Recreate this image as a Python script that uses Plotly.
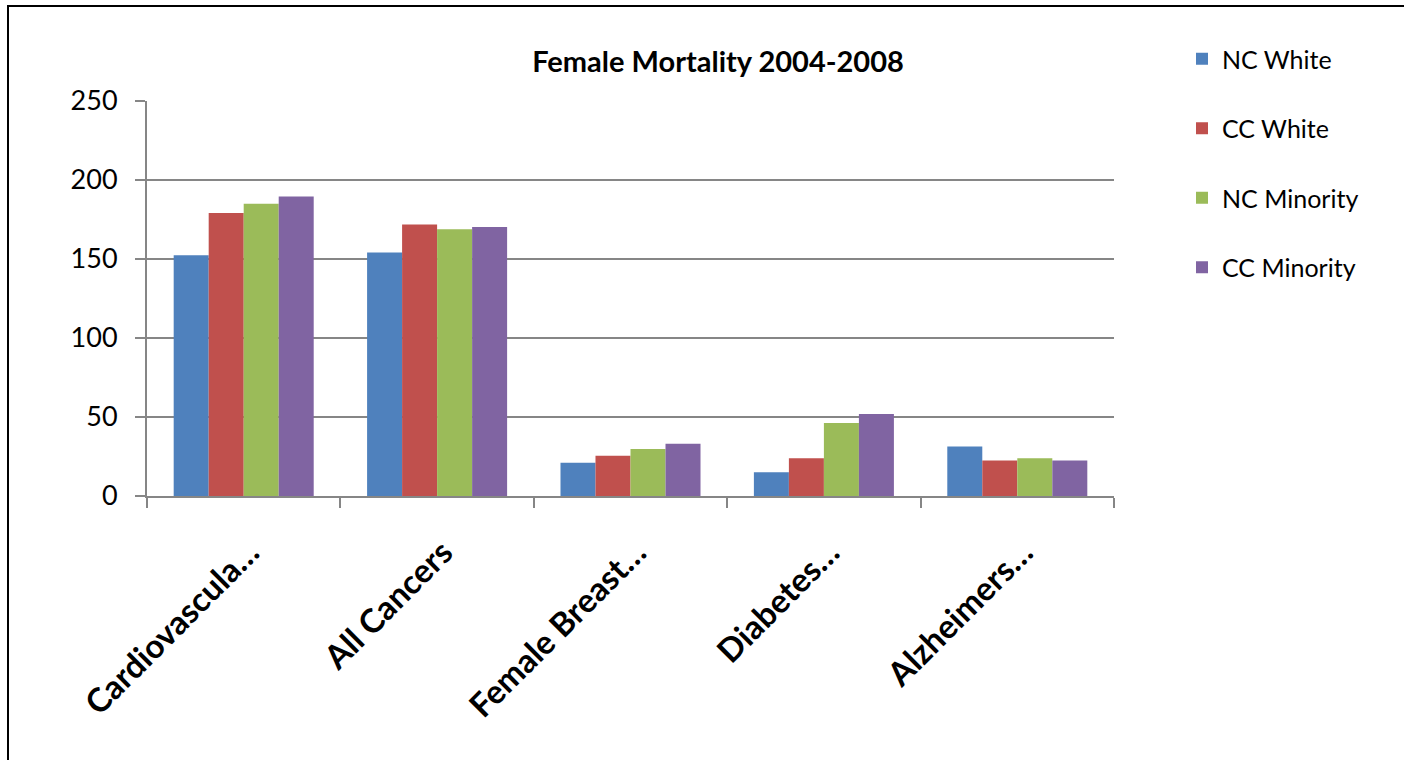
import plotly.graph_objects as go

categories = ["Cardiovascula…", "All Cancers", "Female Breast…", "Diabetes…", "Alzheimers…"]
nc_white = [152.4, 154.1, 21.0, 15.1, 31.3]
cc_white = [179.1, 171.9, 25.4, 23.9, 22.5]
nc_minority = [185.0, 168.8, 29.8, 46.2, 23.9]
cc_minority = [189.6, 170.3, 33.0, 51.9, 22.5]
series_names = ["NC White", "CC White", "NC Minority", "CC Minority"]
colors = ["#4F81BD", "#C0504D", "#9BBB59", "#8064A2"]
y_ticks = [0, 50, 100, 150, 200, 250]

fig = go.Figure()
for name, vals, col in zip(series_names, [nc_white, cc_white, nc_minority, cc_minority], colors):
    fig.add_trace(go.Bar(x=categories, y=vals, name=name, legendgroup=name,
                         marker=dict(color=col, line=dict(width=0))))

W, H = 1404, 760
L, R, T, B = 147, 290, 101, 264
pw, ph = W - L - R, H - T - B

fx0 = (8 - L) / pw
fx1 = (1430 - L) / pw
fy0 = -(790 - (H - B)) / ph
fy1 = ((H - B) - 6) / ph

fig.update_layout(
    width=W, height=H,
    margin=dict(l=L, r=R, t=T, b=B),
    paper_bgcolor="white", plot_bgcolor="white",
    barmode="group", bargap=0.276, bargroupgap=0,
    font=dict(family="Lato, Open Sans, sans-serif", color="black"),
    title=dict(text="<b>Female Mortality 2004-2008</b>", x=(718 - L) / pw, xref="paper",
               xanchor="center", y=1 - 62 / H, yanchor="middle",
               font=dict(size=29, family="Lato, sans-serif", color="black")),
    showlegend=True,
    legend=dict(x=(1182 - L) / pw, xanchor="left", y=1 - (36 - T) / ph, yref="paper",
                yanchor="top", font=dict(size=25, color="black"),
                tracegroupgap=34, itemclick=False, bgcolor="rgba(0,0,0,0)"),
    xaxis=dict(showline=True, linecolor="#868686", linewidth=2, ticks="outside",
               tickson="boundaries", ticklen=10, tickcolor="#868686", tickwidth=2,
               tickangle=-45, ticklabelstandoff=22, ticklabelshift=6,
               tickfont=dict(size=33, family="Lato, sans-serif", color="black", weight="bold"),
               showgrid=False),
    yaxis=dict(range=[0, 250], tickvals=y_ticks, showgrid=True, gridcolor="#868686", gridwidth=2,
               showline=True, linecolor="#868686", linewidth=2, ticks="outside", ticklen=10,
               tickcolor="#868686", tickwidth=2, ticklabelstandoff=12,
               tickfont=dict(size=27, color="black"),
               zeroline=False),
    shapes=[dict(type="path", xref="paper", yref="paper",
                 path=f"M {fx0},{fy0} L {fx0},{fy1} L {fx1},{fy1}",
                 line=dict(color="black", width=2), layer="above")],
)

fig.write_html("out.html", config={"displayModeBar": False},
               post_script="document.body.style.margin='0px';document.body.style.overflow='hidden';")
